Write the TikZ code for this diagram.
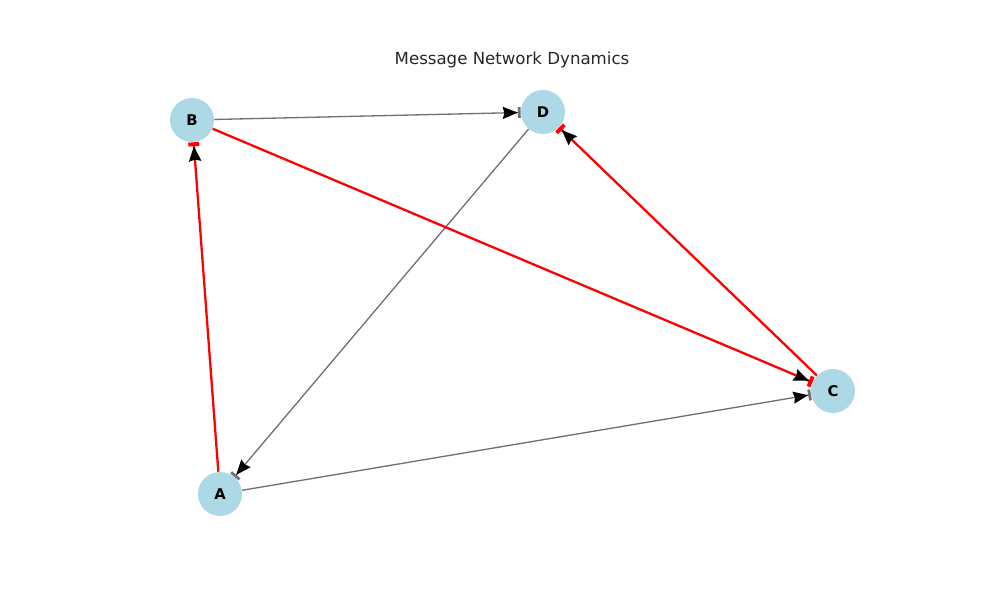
\documentclass[tikz,border=0pt]{standalone}
\usepackage{fontspec}
\setmainfont{DejaVu Sans}
\definecolor{nodeblue}{HTML}{add8e6}
\definecolor{edgegray}{HTML}{707070}
\definecolor{titletext}{HTML}{262626}
\usetikzlibrary{arrows.meta}

\begin{document}
\begin{tikzpicture}[
				agent/.style={circle, fill=nodeblue, minimum size=0.88cm, inner sep=0pt, font=\fontsize{8.4}{10}\selectfont\bfseries},
				msg/.style={draw=edgegray, line width=0.75pt, -{Stealth[length=0.3cm, width=0.24cm, inset=0.03cm, black, sep=0pt] Bar[width=0.22cm, line width=1.6pt, sep=0pt]}},
				hot/.style={draw=red, line width=1.3pt, -{Stealth[length=0.3cm, width=0.24cm, inset=0.03cm, black, sep=0pt] Bar[width=0.22cm, line width=2.2pt, sep=0pt]}}
			]
			\useasboundingbox (0,0) rectangle (20,12);

			% Title
			\node[text=titletext, font=\fontsize{9.45}{11}\selectfont] (title) at (10.24, 10.8) {Message Network Dynamics};

			% Agents
			\node[agent] (b) at (3.84, 9.6) {B};
			\node[agent] (d) at (10.86, 9.76) {D};
			\node[agent] (c) at (16.66, 4.18) {C};
			\node[agent] (a) at (4.4, 2.12) {A};

			% Plain messages
			\draw[msg] (b) -- (d);
			\draw[msg] (d) -- (a);
			\draw[msg] (a) -- (c);

			% Highlighted messages
			\draw[hot] (a) -- (b);
			\draw[hot] (b) -- (c);
			\draw[hot] (c) -- (d);
		\end{tikzpicture}
\end{document}
